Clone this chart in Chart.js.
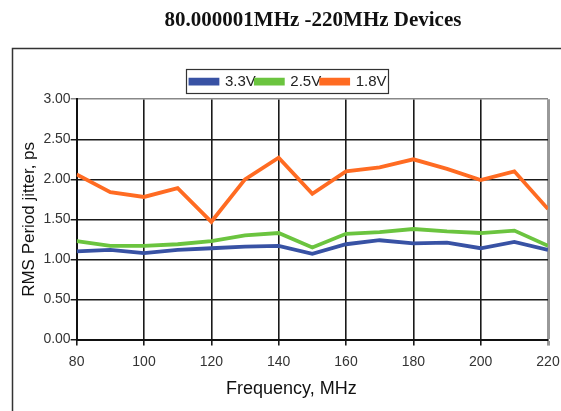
<!DOCTYPE html>
<html>
<head>
<meta charset="utf-8">
<script src="https://cdn.jsdelivr.net/npm/chart.js@4.4.0/dist/chart.umd.min.js"></script>
<style>
  html, body { margin: 0; padding: 0; background: #fff; }
  #wrap { width: 561px; height: 411px; position: relative; }
</style>
</head>
<body>
<div id="wrap"><canvas id="jitterChart" width="561" height="411"></canvas></div>
<script>
// Chart data
const freqs = [80, 90, 100, 110, 120, 130, 140, 150, 160, 170, 180, 190, 200, 210, 220];
const jitter33 = [1.10, 1.12, 1.08, 1.12, 1.14, 1.16, 1.17, 1.07, 1.19, 1.24, 1.20, 1.21, 1.14, 1.22, 1.12];
const jitter25 = [1.23, 1.17, 1.17, 1.19, 1.23, 1.30, 1.33, 1.15, 1.32, 1.34, 1.38, 1.35, 1.33, 1.36, 1.17];
const jitter18 = [2.06, 1.84, 1.78, 1.89, 1.47, 2.00, 2.27, 1.82, 2.10, 2.15, 2.25, 2.13, 1.99, 2.10, 1.63];
const seriesNames = ['3.3V', '2.5V', '1.8V'];
const xTicks = [80, 100, 120, 140, 160, 180, 200, 220];
const yTicks = [0, 0.5, 1.0, 1.5, 2.0, 2.5, 3.0];

const colors = ['#3852a4', '#6bc43f', '#ff6b22'];

function toPoints(vals) {
    return freqs.map((f, i) => ({ x: f, y: vals[i] }));
}

// outer frame + box round the legend
const framePlugin = {
    id: 'frame',
    afterLayout(chart) {
        // title, legend and x title are off-centre in the source
        chart.titleBlock.left = 78;
        chart.legend.left = 29;
        const xs = chart.scales.x;
        if (!xs._shifted) {
            const orig = xs.drawTitle.bind(xs);
            xs.drawTitle = function (area) {
                this.ctx.save();
                this.ctx.translate(-21, 0);
                orig(area);
                this.ctx.restore();
            };
            xs._shifted = true;
        }
    },
    beforeDraw(chart) {
        const ctx = chart.ctx;
        ctx.save();
        ctx.strokeStyle = '#333';
        ctx.lineWidth = 1.5;
        ctx.strokeRect(12.5, 48.5, 620, 420);
        ctx.restore();
    },
    afterDraw(chart) {
        const ctx = chart.ctx;
        const items = chart.legend.legendHitBoxes;
        if (!items || !items.length) return;
        let l = Infinity, r = -Infinity, t = Infinity, b = -Infinity;
        items.forEach(h => {
            l = Math.min(l, h.left); r = Math.max(r, h.left + h.width);
            t = Math.min(t, h.top); b = Math.max(b, h.top + h.height);
        });
        const cy = (t + b) / 2;
        ctx.save();
        ctx.strokeStyle = '#333';
        ctx.lineWidth = 1.2;
        ctx.strokeRect(Math.round(l) - 3.5, Math.round(cy) - 12.5, Math.round(r - l) + 6, 24);
        ctx.restore();
    }
};

new Chart(document.getElementById('jitterChart'), {
    type: 'line',
    data: {
        datasets: [jitter33, jitter25, jitter18].map((vals, i) => ({
            label: seriesNames[i],
            data: toPoints(vals),
            borderColor: colors[i],
            backgroundColor: colors[i],
            borderWidth: 3.8,
            pointRadius: 0,
            tension: 0
        }))
    },
    options: {
        responsive: false,
        animation: false,
        layout: { padding: { left: 19, right: 13, top: 0, bottom: 11 } },
        plugins: {
            title: {
                display: true,
                text: '80.000001MHz -220MHz Devices',
                color: '#111',
                font: { family: 'Liberation Serif', size: 21, weight: 'bold' },
                padding: { top: 8, bottom: 41 }
            },
            legend: {
                display: true,
                labels: {
                    boxWidth: 27,
                    boxHeight: 4,
                    padding: 0,
                    color: '#222',
                    font: { family: 'Liberation Sans', size: 15 }
                }
            },
            tooltip: { enabled: false }
        },
        scales: {
            x: {
                type: 'linear',
                min: 80,
                max: 220,
                afterBuildTicks: axis => { axis.ticks = xTicks.map(v => ({ value: v })); },
                // let the last label run off the edge, as in the source
                afterFit: axis => { axis.paddingRight = 0; },
                ticks: {
                    color: '#333',
                    font: { family: 'Liberation Sans', size: 14 },
                    padding: 8
                },
                grid: {
                    color: c => c.tick && c.tick.value === 220 ? '#999' : '#1a1a1a',
                    lineWidth: c => c.tick && c.tick.value === 220 ? 3 : 1.6,
                    tickLength: 6
                },
                border: { color: '#111', width: 2 },
                title: {
                    display: true,
                    text: 'Frequency, MHz',
                    color: '#111',
                    font: { family: 'Liberation Sans', size: 18 },
                    padding: { top: 0, bottom: 0 }
                }
            },
            y: {
                min: 0,
                max: 3,
                afterBuildTicks: axis => { axis.ticks = yTicks.map(v => ({ value: v })); },
                ticks: {
                    color: '#333',
                    font: { family: 'Liberation Sans', size: 14 },
                    padding: 0,
                    callback: v => v.toFixed(2)
                },
                grid: {
                    color: c => c.tick && c.tick.value === 3 ? '#888' : '#1a1a1a',
                    lineWidth: 1.5,
                    tickLength: 6
                },
                border: { color: '#111', width: 2 },
                title: {
                    display: true,
                    text: 'RMS Period jitter, ps',
                    color: '#111',
                    font: { family: 'Liberation Sans', size: 17 },
                    padding: { top: 0, bottom: 4 }
                }
            }
        }
    },
    plugins: [framePlugin]
});
</script>
</body>
</html>
